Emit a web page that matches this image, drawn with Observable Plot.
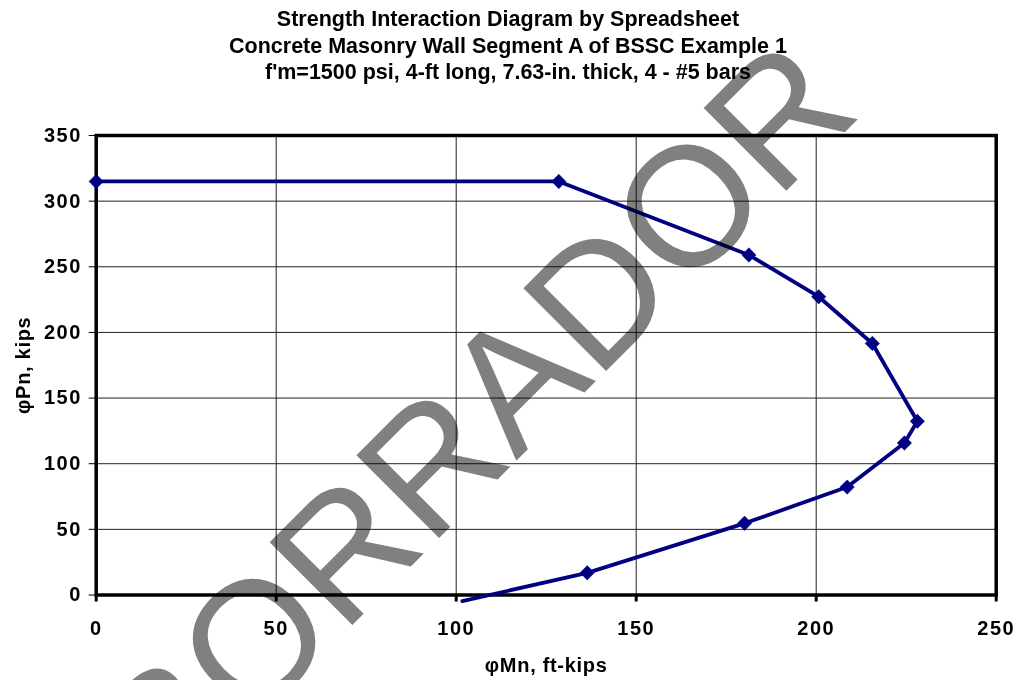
<!DOCTYPE html>
<html>
<head>
<meta charset="utf-8">
<script src="https://cdn.jsdelivr.net/npm/d3@7"></script>
<script src="https://cdn.jsdelivr.net/npm/@observablehq/plot@0.6"></script>
<style>
  html, body { margin: 0; padding: 0; background: white; }
  #wrap { position: relative; width: 1016px; height: 680px; overflow: hidden; }
  #title {
    width: 1016px; box-sizing: border-box; padding-top: 6px; height: 86px;
    font-family: "Liberation Sans", Arial, sans-serif; font-weight: bold;
    font-size: 21.5px; line-height: 26.5px; text-align: center; color: black;
  }
  #title div { white-space: nowrap; }
  g[aria-label="x-axis tick label"] text, g[aria-label="y-axis tick label"] text { letter-spacing: 1.5px; }
  g[aria-label="text"] text { letter-spacing: 0.7px; }
  #wm { position: absolute; left: 0; top: 0; mix-blend-mode: multiply; pointer-events: none; }
</style>
</head>
<body>
<div id="wrap">
  <div id="title"></div>
  <div id="chart"></div>
  <svg id="wm" width="1016" height="680"></svg>
</div>
<script>
const titleLines = [
  "Strength Interaction Diagram by Spreadsheet",
  "Concrete Masonry Wall Segment A of BSSC Example 1",
  "f'm=1500 psi, 4-ft long, 7.63-in. thick, 4 - #5 bars"
];
const xLabel = "φMn, ft-kips";
const yLabel = "φPn, kips";
const watermark = "BORRADOR";

// phi Mn (ft-kips) and phi Pn (kips)
const mn = [0, 128.5, 181.3, 200.7, 215.6, 228.1, 224.5, 208.6, 180.1, 136.4, 101.7];
const pn = [315, 315, 259, 227.2, 191.6, 132.3, 115.8, 82.2, 54.6, 16.9, -4.7];

const xTicks = [0, 50, 100, 150, 200, 250];
const yTicks = [0, 50, 100, 150, 200, 250, 300, 350];

const points = mn.map((m, i) => ({mn: m, pn: pn[i]}));

document.getElementById("title").innerHTML = titleLines.map(t => `<div>${t.replace(/&/g,"&amp;").replace(/</g,"&lt;")}</div>`).join("");

const diamond = {
  draw(context, size) {
    const r = Math.sqrt(size / Math.PI);
    context.moveTo(0, -r);
    context.lineTo(r, 0);
    context.lineTo(0, r);
    context.lineTo(-r, 0);
    context.closePath();
  }
};

const navy = "#000080";

const chart = Plot.plot({
  width: 1016,
  height: 594,
  marginTop: 49,
  marginBottom: 85.5,
  marginLeft: 95.7,
  marginRight: 20.3,
  x: {domain: [0, 250]},
  y: {domain: [0, 350]},
  style: {
    fontFamily: "'Liberation Sans', Arial, sans-serif",
    fontSize: "20px",
    fontWeight: "bold",
    background: "white",
    color: "black",
    overflow: "visible"
  },
  marks: [
    Plot.ruleX(xTicks, {stroke: "#222", strokeWidth: 1}),
    Plot.ruleY(yTicks, {stroke: "#222", strokeWidth: 1}),
    Plot.frame({stroke: "black", strokeWidth: 3.5}),
    Plot.axisX(xTicks, {tickSize: 7, tickPadding: 18.5, strokeWidth: 3, label: null, tickFormat: d => String(d)}),
    Plot.axisY(yTicks, {tickSize: 7, tickPadding: 7.4, strokeWidth: 1, label: null, tickFormat: d => String(d)}),
    Plot.text([xLabel], {frameAnchor: "bottom", textAnchor: "middle", lineAnchor: "middle", dy: 70.5, fontSize: 20, fontWeight: "bold"}),
    Plot.text([yLabel], {frameAnchor: "left", textAnchor: "middle", lineAnchor: "middle", dx: -72.7, rotate: -90, fontSize: 20, fontWeight: "bold"}),
    Plot.line(points, {x: "mn", y: "pn", stroke: navy, strokeWidth: 3.8}),
    Plot.dot(points, {filter: d => d.pn >= 0, x: "mn", y: "pn", symbol: diamond, r: 7.2, fill: navy, stroke: navy, strokeWidth: 0.5})
  ]
});
document.getElementById("chart").appendChild(chart);

// watermark overlay
const wm = d3.select("#wm");
wm.append("text")
  .attr("x", 473).attr("y", 418)
  .attr("dy", "0.358em")
  .attr("text-anchor", "middle")
  .attr("transform", "rotate(-45 473 418)")
  .attr("font-family", "'Liberation Sans', Arial, sans-serif")
  .attr("font-weight", "normal")
  .attr("font-size", 170)
  .attr("fill", "#808080")
  .text(watermark);
</script>
</body>
</html>
